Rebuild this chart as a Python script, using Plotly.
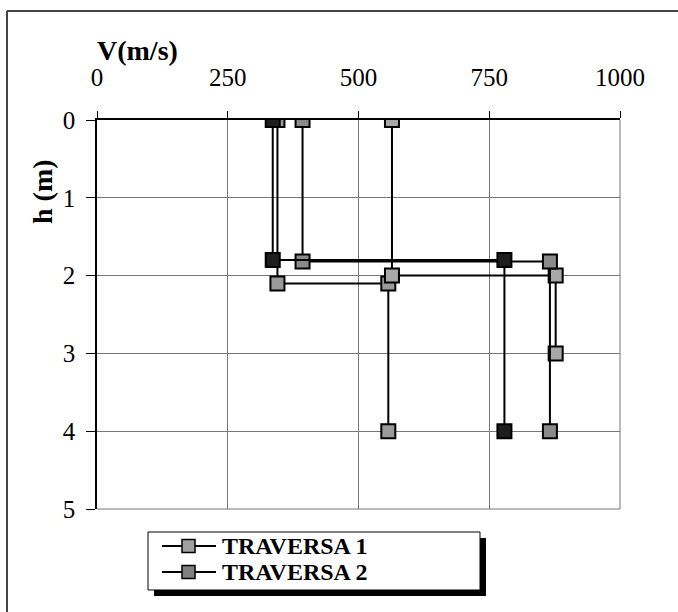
import plotly.graph_objects as go

# ---- data (V in m/s, h in m) ----
v_s1 = [336, 336, 779, 779]
h_s1 = [0.0, 1.80, 1.80, 4.0]
v_s2 = [393, 393, 866, 866]
h_s2 = [0.0, 1.82, 1.82, 4.0]
v_s3 = [564, 564, 877, 877]
h_s3 = [0.0, 2.0, 2.0, 3.0]
v_s4 = [345, 345, 557, 557]
h_s4 = [0.0, 2.1, 2.1, 4.0]

x_ticks = [0, 250, 500, 750, 1000]
y_ticks = [0, 1, 2, 3, 4, 5]
legend_names = ["TRAVERSA 1", "TRAVERSA 2"]
legend_fills = ["#a0a0a0", "#808080"]

W, H = 678, 612
L, R, T, B = 97, 620, 120, 509  # plot area in px


def px(x):
    return (x - L) / (R - L)


def py(y):
    return (B - y) / (B - T)


SERIF = "Liberation Serif, Times New Roman, serif"

fig = go.Figure()


def add(v, h, fill, name):
    fig.add_trace(go.Scatter(
        x=v, y=h, mode="lines+markers", name=name, showlegend=False,
        line=dict(color="black", width=2),
        marker=dict(symbol="square", size=14, color=fill,
                    line=dict(color="black", width=2)),
    ))


add(v_s4, h_s4, "#9a9a9a", legend_names[0])
add(v_s3, h_s3, "#a8a8a8", legend_names[0])
add(v_s2, h_s2, "#8a8a8a", legend_names[1])
add(v_s1, h_s1, "#1e1e1e", legend_names[1])

shapes = []
# gridlines at the far ends of the axes
shapes.append(dict(type="line", xref="x domain", yref="y domain",
                   x0=1, x1=1, y0=0, y1=1, layer="below",
                   line=dict(color="#777", width=1)))
shapes.append(dict(type="line", xref="x domain", yref="y domain",
                   x0=0, x1=1, y0=0, y1=0, layer="below",
                   line=dict(color="#777", width=1)))
# outer chart frame (top and left visible)
shapes.append(dict(type="line", xref="paper", yref="paper",
                   x0=px(7), x1=px(700), y0=py(11), y1=py(11),
                   line=dict(color="#444", width=2)))
shapes.append(dict(type="line", xref="paper", yref="paper",
                   x0=px(7), x1=px(7), y0=py(11), y1=py(640),
                   line=dict(color="#444", width=2)))
# legend shadow + box
shapes.append(dict(type="rect", xref="paper", yref="paper",
                   x0=px(154), x1=px(486), y0=py(538), y1=py(596),
                   fillcolor="black", line=dict(width=0)))
shapes.append(dict(type="rect", xref="paper", yref="paper",
                   x0=px(148), x1=px(480), y0=py(532), y1=py(590),
                   fillcolor="white", line=dict(color="black", width=1)))

annotations = [
    dict(text="<b>V(m/s)</b>", xref="paper", yref="paper",
         x=px(137), y=py(51), xanchor="center", yanchor="middle",
         showarrow=False, font=dict(family=SERIF, size=28, color="black")),
    dict(text="<b>h (m)</b>", xref="paper", yref="paper",
         x=px(42), y=py(192), xanchor="center", yanchor="middle",
         showarrow=False, textangle=-90,
         font=dict(family=SERIF, size=28, color="black")),
]

# manual legend entries
for i, (name, fill) in enumerate(zip(legend_names, legend_fills)):
    yc = 546 + 26 * i
    shapes.append(dict(type="line", xref="paper", yref="paper",
                       x0=px(162), x1=px(216), y0=py(yc), y1=py(yc),
                       line=dict(color="black", width=2)))
    shapes.append(dict(type="rect", xref="paper", yref="paper",
                       x0=px(182), x1=px(195), y0=py(yc - 6.5), y1=py(yc + 6.5),
                       fillcolor=fill, line=dict(color="black", width=1.5)))
    annotations.append(dict(
        text="<b>%s</b>" % name, xref="paper", yref="paper",
        x=px(220), y=py(yc), xanchor="left", yanchor="middle",
        showarrow=False, font=dict(family=SERIF, size=24, color="black")))

fig.update_layout(
    width=W, height=H,
    margin=dict(l=L, r=W - R, t=T, b=H - B),
    paper_bgcolor="white", plot_bgcolor="white",
    font=dict(family=SERIF, color="black"),
    shapes=shapes, annotations=annotations,
    showlegend=False,
)

fig.update_xaxes(
    side="top", range=[0, 1000], tickvals=x_ticks,
    ticktext=[str(v) for v in x_ticks],
    showline=True, linecolor="black", linewidth=1.5,
    ticks="outside", ticklen=7, tickcolor="black",
    ticklabelstandoff=15,
    tickfont=dict(family=SERIF, size=25, color="black"),
    showgrid=True, gridcolor="#777", gridwidth=1,
    zeroline=False,
)
fig.update_yaxes(
    range=[5, 0], tickvals=y_ticks,
    ticktext=[str(v) for v in y_ticks],
    showline=True, linecolor="black", linewidth=1.5,
    ticks="outside", ticklen=9, tickcolor="black",
    ticklabelstandoff=6,
    tickfont=dict(family=SERIF, size=25, color="black"),
    showgrid=True, gridcolor="#777", gridwidth=1,
    zeroline=False,
)

fig.write_html("out.html")
